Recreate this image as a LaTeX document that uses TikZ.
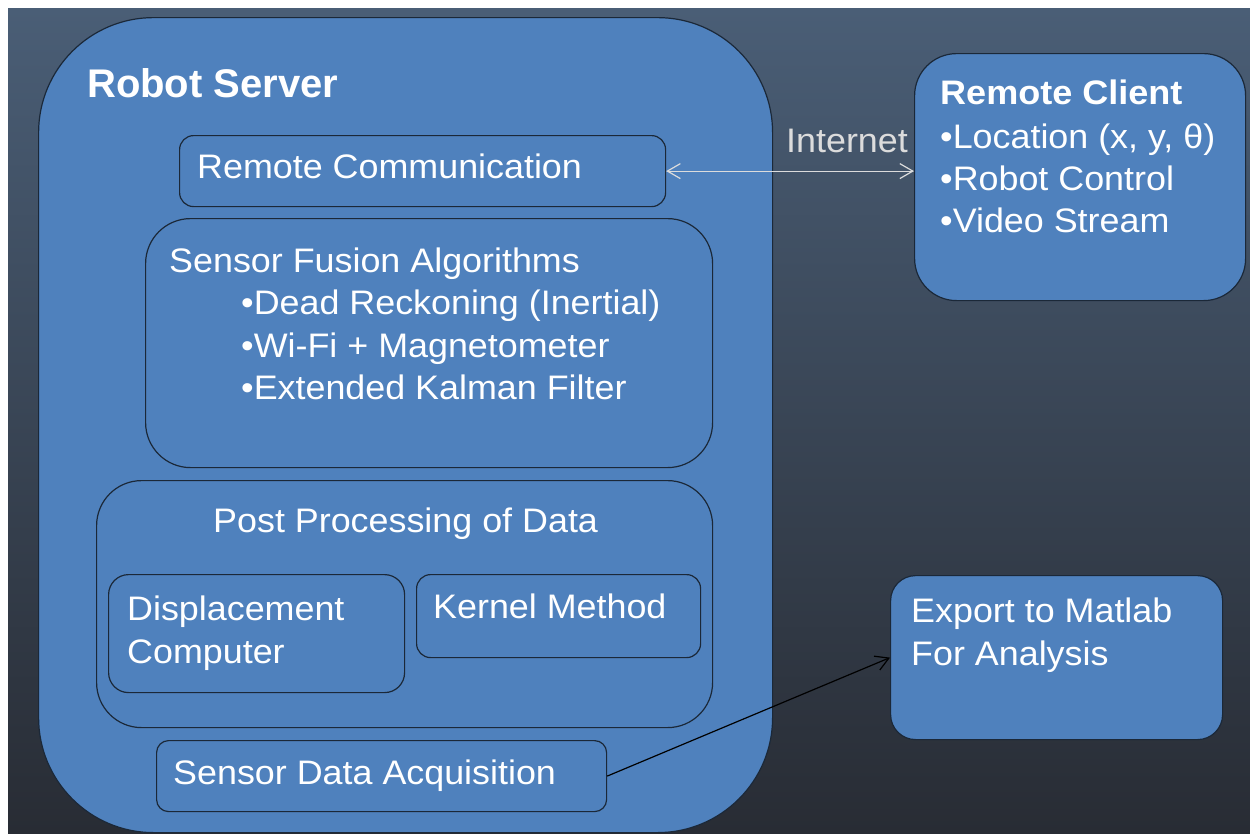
\documentclass[tikz,border=0pt]{standalone}
\usepackage{fontspec}
\setmainfont{Liberation Sans}[FakeStretch=1.055, BoldFeatures={FakeStretch=1.06}]
\newfontfamily\plainfont{Liberation Sans}
\usetikzlibrary{arrows.meta}
\definecolor{boxfill}{HTML}{4F81BD}
\definecolor{boxline}{HTML}{1B2838}
\definecolor{bgtop}{HTML}{4A5E76}
\definecolor{bgbot}{HTML}{282C34}
\definecolor{linkcol}{HTML}{DCDCDC}
\begin{document}
\begin{tikzpicture}[x=1pt,y=-1pt,
  box/.style={draw=boxline, fill=boxfill, line width=1.2pt, inner sep=0pt, anchor=north west},
  txt/.style={text=white, anchor=base west, inner sep=0pt, font=\fontsize{34}{40}\selectfont},
  title/.style={txt, font=\fontsize{34}{40}\selectfont\bfseries},
  bigtitle/.style={txt, font=\plainfont\fontsize{40}{46}\selectfont\bfseries},
  barb/.style={-{Straight Barb[length=13pt,width=15pt]}},
  link/.style={draw=linkcol, line width=1.2pt, {Straight Barb[length=13pt,width=15pt]}-{Straight Barb[length=13pt,width=15pt]}},
  flow/.style={draw=black, line width=1.2pt, barb}
]
\useasboundingbox (0,0) rectangle (1250,833);
\fill[white] (0,0) rectangle (1250,833);
\shade[top color=bgtop, bottom color=bgbot] (8,8) rectangle (1250,833);

% boxes
\node[box, rounded corners=115pt, minimum width=734pt, minimum height=815pt] (server) at (38,17) {};
\node[box, rounded corners=14pt, minimum width=486pt, minimum height=71pt] (rc) at (179,135) {};
\node[box, rounded corners=45pt, minimum width=567pt, minimum height=249pt] (sfa) at (145,218) {};
\node[box, rounded corners=45pt, minimum width=616pt, minimum height=247pt] (ppd) at (96,480) {};
\node[box, rounded corners=20pt, minimum width=296pt, minimum height=118pt] (dc) at (108,574) {};
\node[box, rounded corners=14pt, minimum width=284pt, minimum height=83pt] (km) at (416,574) {};
\node[box, rounded corners=12pt, minimum width=450pt, minimum height=71pt] (sda) at (156,740) {};
\node[box, rounded corners=42pt, minimum width=331pt, minimum height=247pt] (client) at (914,53) {};
\node[box, rounded corners=25pt, minimum width=332pt, minimum height=164pt] (export) at (890,575) {};

% texts
\node[bigtitle] (tserver) at (87,97) {Robot Server};
\node[txt] (trc) at (197,178) {Remote Communication};
\node[txt] (tsfa) at (169,272) {Sensor Fusion Algorithms};
\node[txt] (tsfa1) at (241,314) {•Dead Reckoning (Inertial)};
\node[txt] (tsfa2) at (241,357) {•Wi-Fi + Magnetometer};
\node[txt] (tsfa3) at (241,399) {•Extended Kalman Filter};
\node[txt] (tppd) at (213,532) {Post Processing of Data};
\node[txt] (tdc1) at (127,620) {Displacement};
\node[txt] (tdc2) at (127,663) {Computer};
\node[txt] (tkm) at (433,618) {Kernel Method};
\node[txt] (tsda) at (173,784) {Sensor Data Acquisition};
\node[title] (tclient) at (940,104) {Remote Client};
\node[txt] (tc1) at (940,148) {•Location (x, y, θ)};
\node[txt] (tc2) at (940,190) {•Robot Control};
\node[txt] (tc3) at (940,232) {•Video Stream};
\node[txt] (tex1) at (911,622) {Export to Matlab};
\node[txt] (tex2) at (911,665) {For Analysis};
\node[txt, text=linkcol] (tnet) at (786,152) {Internet};

% connectors
\draw[link] (rc.east) -- (rc.east -| client.west);
\draw[flow] (sda.east) -- (export.west);
\end{tikzpicture}
\end{document}
